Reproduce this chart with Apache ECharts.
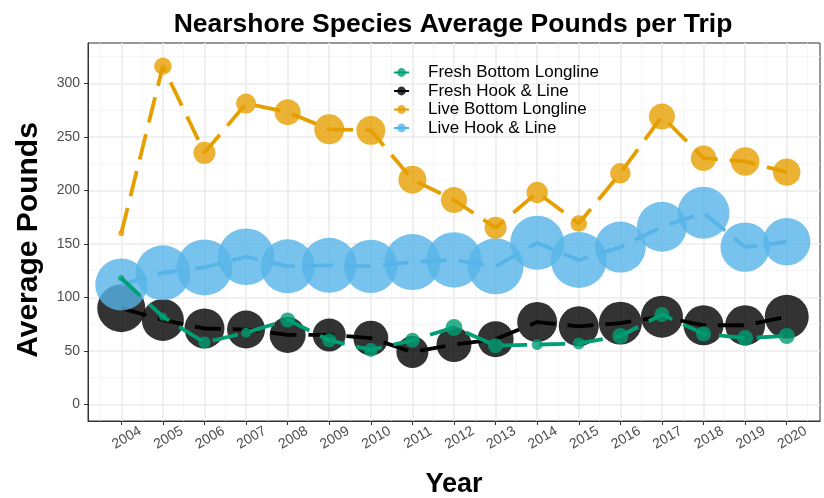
<!DOCTYPE html>
<html lang="en">
  <head>
    <meta charset="UTF-8" />
    <title>Nearshore Species Average Pounds per Trip</title>
    <style>
      html, body { margin: 0; padding: 0; background: #fff; }
      #main { width: 824px; height: 498px; }
    </style>
  </head>
  <body>
    <script src="https://cdn.jsdelivr.net/npm/echarts@6.0.0/dist/echarts.min.js"></script>
    <div id="main"></div>
    <script>
      const years = [2004, 2005, 2006, 2007, 2008, 2009, 2010, 2011, 2012, 2013, 2014, 2015, 2016, 2017, 2018, 2019, 2020]
      const yTicks = [0, 50, 100, 150, 200, 250, 300]

      // average pounds per trip
      const freshBottom = [118, 82, 58, 67, 79, 60, 51, 60, 72, 55, 56, 57, 64, 84, 66, 62, 64]
      const freshHook = [90, 79, 71, 70, 65, 65, 62, 49, 56, 61, 77, 73, 76, 82, 74, 74, 82]
      const liveBottom = [160, 316, 235, 281, 273, 257, 256, 210, 191, 165, 198, 169, 216, 269, 230, 227, 217]
      const liveHook = [112, 123, 128, 138, 129, 130, 129, 133, 135, 129, 151, 135, 147, 166, 179, 147, 152]

      // number of trips (point size)
      const freshBottomTrips = [9, 16, 36, 25, 56, 49, 49, 56, 72, 56, 30, 36, 64, 56, 56, 64, 64]
      const freshHookTrips = [576, 441, 400, 361, 324, 272, 306, 256, 306, 324, 400, 400, 462, 441, 400, 400, 484]
      const liveBottomTrips = [9, 76, 121, 100, 169, 225, 210, 196, 169, 121, 114, 69, 106, 169, 161, 204, 188]
      const liveHookTrips = [676, 756, 784, 801, 729, 756, 713, 784, 767, 784, 729, 784, 650, 625, 676, 610, 562]

      const names = ['Fresh Bottom Longline', 'Fresh Hook & Line', 'Live Bottom Longline', 'Live Hook & Line']
      const colors = ['#009E73', '#000000', '#E69F00', '#56B4E9']

      const font = 'Liberation Sans, Arial, sans-serif'
      const chart = echarts.init(document.getElementById('main'))

      function makeSeries(idx, values, trips, z) {
        return {
          name: names[idx],
          type: 'line',
          z,
          data: years.map((y, i) => [y, values[i], trips[i]]),
          symbol: 'circle',
          symbolSize: (v) => 2 * Math.sqrt(v[2]),
          showAllSymbol: true,
          itemStyle: { color: colors[idx], opacity: 0.8 },
          lineStyle: { color: colors[idx], width: 3.8, type: [26, 12], cap: 'butt' },
          emphasis: { disabled: true }
        }
      }

      const minorX = years.map((y) => y - 0.5).concat([2020.5])
      const minorY = yTicks.map((v) => v + 25)

      chart.setOption({
        animation: false,
        title: {
          text: 'Nearshore Species Average Pounds per Trip',
          left: 448,
          textAlign: 'center',
          top: 6,
          textStyle: { fontFamily: font, fontSize: 26.5, fontWeight: 'bold', color: '#000' }
        },
        legend: {
          orient: 'vertical',
          left: 393,
          top: 64,
          padding: 0,
          itemWidth: 15,
          itemHeight: 11,
          itemGap: 1.5,
          data: names,
          textStyle: { fontFamily: font, fontSize: 17, lineHeight: 16, color: '#000', padding: [0, 0, 0, 14] }
        },
        grid: {
          left: 88,
          right: 4,
          top: 43,
          bottom: 77,
          outerBoundsMode: 'none',
          show: true,
          borderColor: '#333',
          borderWidth: 1
        },
        xAxis: [
          {
            type: 'value',
            min: 2003.2,
            max: 2020.8,
            name: 'Year',
            nameLocation: 'middle',
            nameGap: 50,
            nameTextStyle: { fontFamily: font, fontSize: 27, fontWeight: 'bold', color: '#000' },
            axisLine: { onZero: false, lineStyle: { color: '#333', width: 1 } },
            axisTick: { customValues: years, length: 4, lineStyle: { color: '#333' } },
            axisLabel: {
              customValues: years,
              formatter: (v) => String(v),
              rotate: 30,
              align: 'center',
              verticalAlign: 'middle',
              padding: [0, 0, 0, 13],
              margin: 20,
              fontFamily: font,
              fontSize: 14,
              color: '#4D4D4D'
            },
            splitLine: { show: true, lineStyle: { color: '#EBEBEB', width: 1.6 } }
          },
          {
            type: 'value',
            min: 2003.2,
            max: 2020.8,
            position: 'top',
            axisLine: { show: false },
            axisTick: { show: false, customValues: minorX },
            axisLabel: { show: false, customValues: minorX },
            splitLine: { show: true, lineStyle: { color: '#F2F2F2', width: 0.8 } }
          }
        ],
        yAxis: [
          {
            type: 'value',
            min: -15.4,
            max: 337.6,
            name: 'Average Pounds',
            nameLocation: 'middle',
            nameGap: 44,
            nameTextStyle: {
              fontFamily: font,
              fontSize: 30,
              fontWeight: 'bold',
              color: '#000',
              padding: [0, 16, 0, 0]
            },
            axisLine: { show: true, onZero: false, lineStyle: { color: '#333', width: 1 } },
            axisTick: { show: true, customValues: yTicks, length: 4, lineStyle: { color: '#333' } },
            axisLabel: { customValues: yTicks, margin: 8, fontFamily: font, fontSize: 14, color: '#4D4D4D' },
            splitLine: { show: true, lineStyle: { color: '#EBEBEB', width: 1.6 } }
          },
          {
            type: 'value',
            min: -15.4,
            max: 337.6,
            position: 'right',
            axisLine: { show: false },
            axisTick: { show: false, customValues: minorY },
            axisLabel: { show: false, customValues: minorY },
            splitLine: { show: true, lineStyle: { color: '#F2F2F2', width: 0.8 } }
          }
        ],
        series: [
          makeSeries(1, freshHook, freshHookTrips, 2),
          makeSeries(3, liveHook, liveHookTrips, 3),
          makeSeries(2, liveBottom, liveBottomTrips, 4),
          makeSeries(0, freshBottom, freshBottomTrips, 5)
        ]
      })
    </script>
  </body>
</html>
